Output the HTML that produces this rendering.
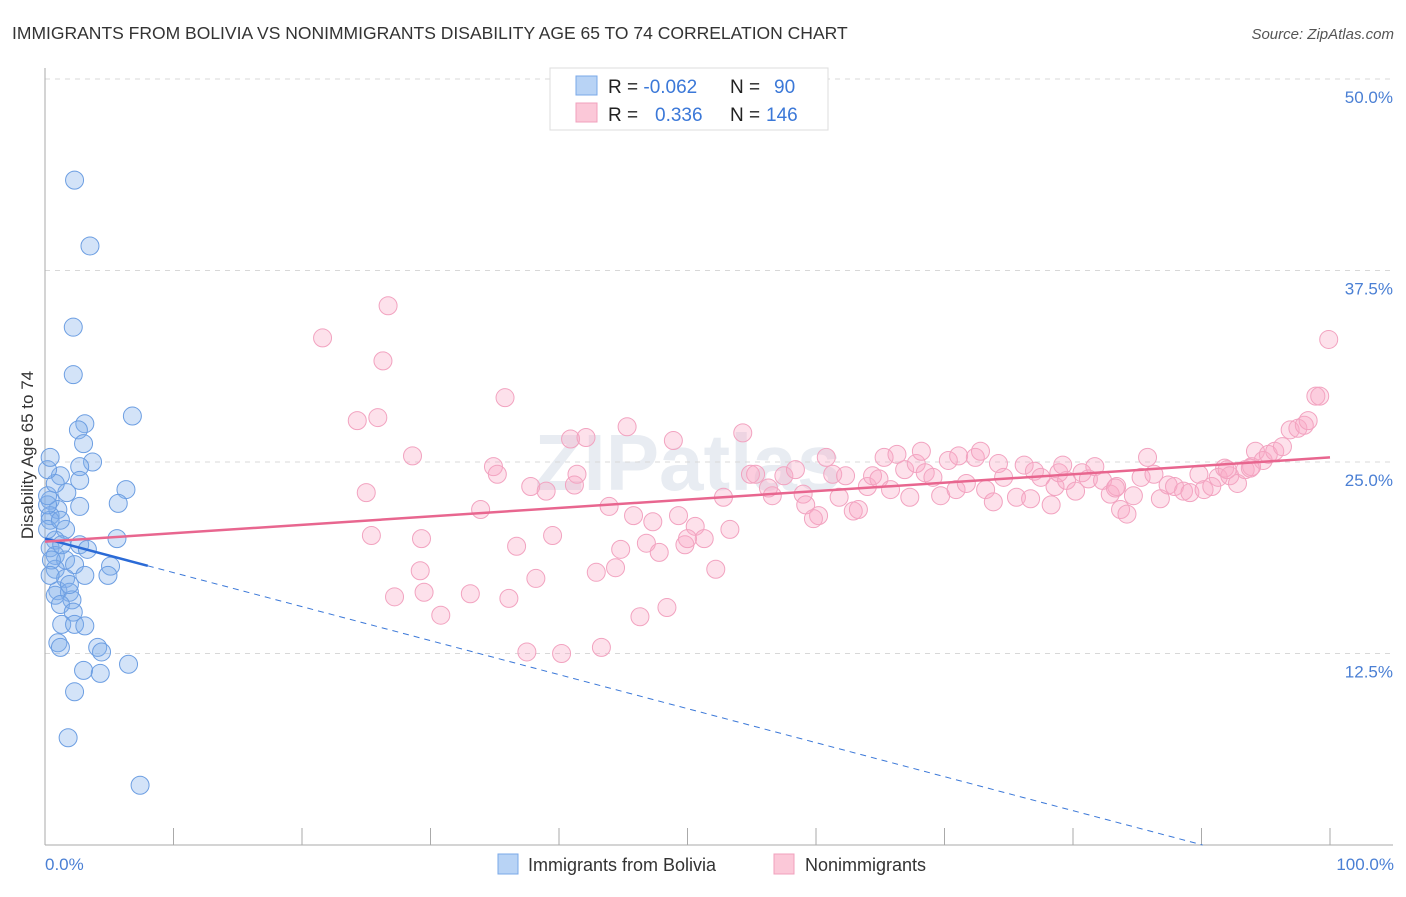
<!DOCTYPE html>
<html><head><meta charset="utf-8"><style>
body{margin:0;background:#fff;font-family:"Liberation Sans",sans-serif}
</style></head><body>
<svg width="1406" height="892" xmlns="http://www.w3.org/2000/svg" font-family="Liberation Sans, sans-serif">
<text x="12" y="39" font-size="17.5" fill="#333">IMMIGRANTS FROM BOLIVIA VS NONIMMIGRANTS DISABILITY AGE 65 TO 74 CORRELATION CHART</text>
<text x="1394" y="39" font-size="15" font-style="italic" fill="#555" text-anchor="end">Source: ZipAtlas.com</text>
<text x="688" y="490" font-size="80" font-weight="bold" fill="#e8ecf2" text-anchor="middle">ZIPatlas</text>
<g id="grid"></g>
<g id="axes"></g>
<g id="pts"></g>
<g id="trends"></g>
<text transform="translate(33,455) rotate(-90)" font-size="17" fill="#333" text-anchor="middle">Disability Age 65 to 74</text>
<text x="45" y="870" font-size="17" fill="#4a7fd4">0.0%</text>
<text x="1394" y="870" font-size="17" fill="#4a7fd4" text-anchor="end">100.0%</text>
<g>
<rect x="550" y="68" width="278" height="62" fill="#fff" stroke="#ddd"/>
<rect x="576" y="76" width="21" height="19" fill="#b8d3f5" stroke="#7aa8e8"/>
<rect x="576" y="103" width="21" height="19" fill="#fbc8d8" stroke="#f0a0bd"/>
<text x="608" y="93" font-size="19" fill="#222">R = <tspan fill="#3b78d8">-0.062</tspan><tspan x="730">N =</tspan><tspan x="774" fill="#3b78d8">90</tspan></text>
<text x="608" y="121" font-size="19" fill="#222">R = <tspan x="655" fill="#3b78d8">0.336</tspan><tspan x="730">N =</tspan><tspan x="766" fill="#3b78d8">146</tspan></text>
</g>
<g>
<rect x="498" y="854" width="20" height="20" fill="#b8d3f5" stroke="#7aa8e8"/>
<text x="528" y="871" font-size="18" fill="#333">Immigrants from Bolivia</text>
<rect x="774" y="854" width="20" height="20" fill="#fbc8d8" stroke="#f0a0bd"/>
<text x="805" y="871" font-size="18" fill="#333">Nonimmigrants</text>
</g>
</svg>
<script>
const yTicks=[50,37.5,25,12.5];
const yTickLabels=["50.0%","37.5%","25.0%","12.5%"];
const xTicks=[0,10,20,30,40,50,60,70,80,90,100];
const blueX=[2.3,3.5,2.2,2.2,6.8,3.1,2.6,3.0,3.7,2.7,1.2,2.7,1.7,6.3,0.4,2.7,5.7,1.0,0.4,1.6,5.6,0.8,2.7,3.3,0.4,0.8,1.6,2.3,5.1,0.8,3.1,4.9,1.6,1.0,1.9,0.8,2.1,1.2,2.2,1.3,2.3,3.1,1.0,1.2,4.1,4.4,3.0,6.5,4.3,2.3,1.8,7.4,0.4,0.2,0.5,0.4,0.2,0.2,0.8,0.2,0.4,1.3,1.9,1.2];
const blueY=[43.4,39.1,33.8,30.7,28.0,27.5,27.1,26.2,25.0,24.7,24.1,23.8,23.0,23.2,22.5,22.1,22.3,21.9,21.5,20.6,20.0,19.9,19.6,19.3,19.4,18.9,18.6,18.3,18.2,18.0,17.6,17.6,17.4,16.6,16.5,16.3,16.0,15.7,15.2,14.4,14.4,14.3,13.2,12.9,12.9,12.6,11.4,11.8,11.2,10.0,7.0,3.9,21.2,20.6,18.6,17.6,22.2,22.8,23.6,24.5,25.3,19.6,17.0,21.2];
const pinkX=[21.6,26.7,26.3,24.3,25.9,35.8,28.6,34.9,35.2,25.0,33.9,25.4,29.3,36.7,37.8,39.0,41.4,41.2,39.5,29.2,27.2,29.5,33.1,36.1,38.2,30.8,37.5,40.2,43.3,40.9,42.1,45.3,43.9,44.8,45.8,47.3,46.8,47.8,42.9,44.4,46.3,48.4,48.9,49.3,49.8,50.6,51.3,50.0,53.3,52.2,54.3,52.8,54.9,55.3,56.6,56.3,57.5,58.4,59.0,59.2,60.2,59.8,60.8,61.3,61.8,62.3,62.9,63.3,64.0,64.4,64.9,65.3,65.8,66.3,66.9,67.3,67.8,68.2,68.5,69.1,69.7,70.3,70.9,71.1,71.7,72.4,72.8,73.2,73.8,74.2,74.6,75.6,76.2,76.7,77.0,77.5,78.3,78.6,78.9,79.5,80.2,80.7,81.2,81.7,82.3,82.9,83.4,83.7,84.2,84.7,85.3,85.8,86.3,86.8,87.4,87.9,88.6,89.1,89.8,90.2,90.8,91.3,91.8,92.2,92.8,93.4,93.9,94.2,94.8,95.2,95.7,96.3,96.9,97.5,98.0,98.3,98.9,99.2,99.9,92.0,93.8,83.3,79.2];
const pinkY=[33.1,35.2,31.6,27.7,27.9,29.2,25.4,24.7,24.2,23.0,21.9,20.2,20.0,19.5,23.4,23.1,24.2,23.5,20.2,17.9,16.2,16.5,16.4,16.1,17.4,15.0,12.6,12.5,12.9,26.5,26.6,27.3,22.1,19.3,21.5,21.1,19.7,19.1,17.8,18.1,14.9,15.5,26.4,21.5,19.6,20.8,20.0,20.0,20.6,18.0,26.9,22.7,24.2,24.2,22.8,23.3,24.1,24.5,22.9,22.2,21.5,21.3,25.3,24.2,22.7,24.1,21.8,21.9,23.4,24.1,23.9,25.3,23.2,25.5,24.5,22.7,24.9,25.7,24.3,24.0,22.8,25.1,23.2,25.4,23.6,25.3,25.7,23.2,22.4,24.9,24.0,22.7,24.8,22.6,24.4,24.0,22.2,23.4,24.3,23.8,23.1,24.3,23.9,24.7,23.8,22.9,23.4,21.9,21.6,22.8,24.0,25.3,24.2,22.6,23.5,23.4,23.1,23.0,24.2,23.2,23.4,24.0,24.6,24.1,23.6,24.5,24.7,25.7,25.1,25.5,25.7,26.0,27.1,27.2,27.4,27.7,29.3,29.3,33.0,24.5,24.6,23.3,24.8];
const blueTrend=[20.0,-0.222,8];   // intercept, slope, solid-end x
const pinkTrend=[19.8,0.055];

const NS="http://www.w3.org/2000/svg";
const X=v=>45+v*12.85, Y=v=>845-v*15.32;
function mk(tag,attrs,parent){const e=document.createElementNS(NS,tag);for(const k in attrs)e.setAttribute(k,attrs[k]);parent.appendChild(e);return e;}
const grid=document.getElementById('grid'),axes=document.getElementById('axes'),pts=document.getElementById('pts'),tr=document.getElementById('trends');
yTicks.forEach((t,i)=>{
 const l=mk('line',{x1:45,x2:1393,y1:Y(t),y2:Y(t),stroke:'#d8d8d8','stroke-dasharray':'5,5'},grid);
 
 
 const tx=mk('text',{x:1393,y:Y(t)+24,'font-size':17,fill:'#4a7fd4','text-anchor':'end'},grid);
 tx.textContent=yTickLabels[i];
 
 
});
const ya=mk('line',{x1:45,x2:45,y1:68,y2:845,stroke:'#aaa'},axes);


const xa=mk('line',{x1:45,x2:1393,y1:845,y2:845,stroke:'#aaa'},axes);


xTicks.forEach(t=>{
 const l=mk('line',{x1:X(t),x2:X(t),y1:828,y2:845,stroke:'#aaa'},axes);
 
 
});
blueX.forEach((v,i)=>{
 const c=mk('circle',{cx:X(v),cy:Y(blueY[i]),r:9,fill:'rgba(130,175,235,0.35)',stroke:'#6c9ee2','stroke-width':1},pts);
 
 
});
pinkX.forEach((v,i)=>{
 const c=mk('circle',{cx:X(v),cy:Y(pinkY[i]),r:9,fill:'rgba(248,170,198,0.35)',stroke:'#f2a3c0','stroke-width':1},pts);
 
 
});
const bf=x=>blueTrend[0]+blueTrend[1]*x;
const xEnd=Math.min(100,-blueTrend[0]/blueTrend[1]);
const bd=mk('line',{x1:X(blueTrend[2]),y1:Y(bf(blueTrend[2])),x2:X(xEnd),y2:Y(bf(xEnd)),stroke:'#3b78d8','stroke-width':1,'stroke-dasharray':'6,5'},tr);


const bs=mk('line',{x1:X(0),y1:Y(bf(0)),x2:X(blueTrend[2]),y2:Y(bf(blueTrend[2])),stroke:'#2a6ad6','stroke-width':2.5},tr);


const pl=mk('line',{x1:X(0),y1:Y(pinkTrend[0]),x2:X(100),y2:Y(pinkTrend[0]+pinkTrend[1]*100),stroke:'#e8668f','stroke-width':2.5},tr);


</script>
</body></html>
